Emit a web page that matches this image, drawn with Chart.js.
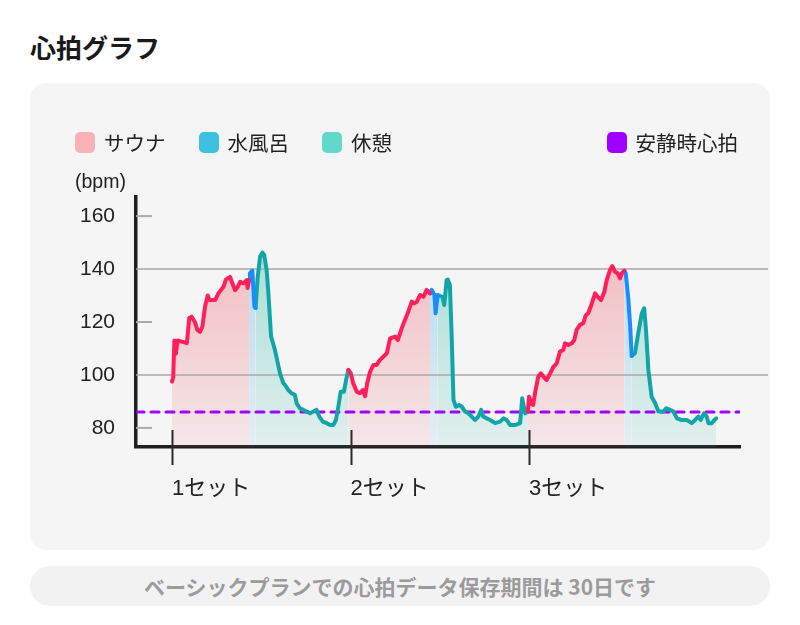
<!DOCTYPE html>
<html lang="ja">
<head>
<meta charset="utf-8">
<script src="https://cdn.jsdelivr.net/npm/chart.js@4.4.1/dist/chart.umd.min.js"></script>
<style>
  body { margin: 0; width: 800px; height: 625px; background: #fff; position: relative; overflow: hidden;
         font-family: 'Noto Sans CJK JP', sans-serif; }
  h1 { position: absolute; left: 30px; top: 28px; margin: 0; font-size: 26px; line-height: 38px; font-weight: 700; color: #1a1a1a; }
  #card { position: absolute; left: 30px; top: 83px; width: 740px; height: 467px; background: #f5f5f5; border-radius: 16px; }
  #card canvas { position: absolute; left: 0; top: 0; }
  .legend { position: absolute; top: 47px; display: flex; gap: 33px; }
  .legend.left { left: 45px; }
  .legend.right { right: 32px; }
  .item { display: flex; align-items: center; gap: 9px; font-size: 20.5px; line-height: 24px; color: #222; }
  .box { width: 20px; height: 21px; border-radius: 5px; }
  #unit { position: absolute; left: 45px; top: 86px; font-family: 'Liberation Sans', sans-serif; font-size: 19.5px; line-height: 24px; color: #222; }
  #note { position: absolute; left: 30px; top: 566px; width: 740px; height: 40px; border-radius: 20px; background: #f2f2f2;
          text-align: center; line-height: 40px; font-size: 21px; font-weight: 700; color: #9b9b9b; }
</style>
</head>
<body>
<h1>心拍グラフ</h1>
<div id="card">
  <canvas id="hr-chart" width="740" height="467"></canvas>
  <div class="legend left" id="legend-left"></div>
  <div class="legend right" id="legend-right"></div>
  <div id="unit">(bpm)</div>
</div>
<div id="note">ベーシックプランでの心拍データ保存期間は 30日です</div>

<script>
// minutes from the start of the first set
var hrTime = [
  0.0, 0.4, 0.8, 1.3, 1.9, 3.3, 5.0, 5.8, 6.6, 7.7, 8.5, 9.4, 10.2, 11.1, 12.0, 12.6, 14.5, 15.6, 17.3, 18.1,
  19.5, 20.1, 21.2, 22.1, 22.9, 24.0, 25.1, 25.4, 25.9,
  26.2, 27.0, 27.7, 28.1,
  28.8, 29.6, 30.4, 31.0, 31.8, 32.4, 33.3, 34.6, 36.3, 37.4, 38.0, 39.1, 40.2, 41.3, 41.9, 43.0, 44.1, 45.3,
  46.4, 47.5, 48.6, 49.5, 50.7, 52.0, 53.1, 54.2, 55.1, 55.9, 56.7, 57.8, 58.5, 59.3,
  60.1, 60.9, 62.1, 63.2, 64.1, 64.9, 65.6, 66.6, 67.7, 68.8, 69.9, 71.0, 72.2, 73.3, 75.0, 75.9, 77.2, 78.3,
  79.4, 80.6, 81.4, 82.3, 83.4, 84.5, 85.6, 86.7,
  87.3, 88.2, 88.6, 89.3,
  90.1, 90.9, 91.5, 92.3, 92.7, 93.4, 94.0, 94.6, 95.4, 96.5, 97.4, 98.5, 99.6, 100.7, 101.8, 103.0, 103.9,
  104.6, 105.8, 106.9, 108.6, 110.3, 111.4, 112.5, 113.6, 115.3, 117.0, 117.7, 118.7, 119.6,
  120.0, 120.7, 121.4, 122.0, 123.1, 124.0, 124.8, 125.9, 127.1, 128.2, 129.3, 130.4, 131.5, 132.1, 133.2,
  134.4, 135.2, 136.0, 137.1, 138.2, 139.1, 139.9, 141.1, 142.2, 143.1, 144.2, 145.3, 146.1, 147.2, 148.0,
  148.9, 149.8, 150.6, 151.2, 152.0,
  152.5, 153.4, 154.0, 154.5,
  155.6, 156.7, 157.9, 158.7, 159.3, 160.1, 161.2, 162.4, 163.5, 165.2, 166.1, 167.4, 168.5, 169.7, 171.3,
  173.0, 174.7, 175.8, 176.9, 177.7, 178.8, 179.7, 180.3, 181.4, 182.2, 182.9
];
var hrBpm = [
  97.5, 99, 113, 108, 113, 112.6, 112, 121.5, 122, 120, 117, 116.3, 118.2, 125.8, 130, 128.3, 128.3, 130.8, 133.3, 136,
  137, 135.2, 132, 133.3, 135.2, 134.6, 135.8, 132.8, 135.8,
  138.4, 139.4, 125.8, 125.3,
  137, 144.6, 146.2, 145.3, 139.6, 130.8, 114.5, 109.4, 100.6, 96.9, 96.2, 94.3, 93.1, 92.5, 89.3, 87.4, 86.8, 86.2,
  85.5, 86.2, 86.8, 84.3, 82.4, 81.8, 81.1, 81.1, 83, 88, 93.7, 93.7, 98.1, 101.9,
  100.6, 96.9, 93.7, 93.1, 94.3, 92, 96.9, 101.3, 103.8, 103.8, 105.7, 106.9, 108.2, 113.8, 114.5, 113.2, 117.6, 120.8,
  123.9, 127.7, 127, 127.7, 130.2, 129.5, 132.1, 130.8,
  132.1, 130.2, 123.3, 130.2,
  129.8, 129.5, 126.4, 135.8, 136, 134, 114.5, 90.6, 88, 88.7, 88, 86.2, 85.5, 84.3, 83, 84.3, 86.8,
  84.3, 83.6, 83, 81.8, 82.4, 83.6, 83, 81.1, 81.1, 81.8, 91.2, 85.5, 86.2,
  91.8, 89.3, 88.7, 93.1, 99.4, 100.6, 99.4, 98.1, 100.6, 103.1, 104.4, 108.8, 109.4, 112, 111.3,
  112, 113.2, 117, 118.9, 119.5, 122.6, 123.3, 127, 130.8, 129.5, 128.3, 131.4, 135.8, 139.6, 141.1,
  139, 138.4, 136.5, 138.4, 139.4,
  138.4, 128.3, 118.2, 107.2,
  108.2, 115.7, 123.3, 125.2, 117, 101.9, 91.8, 89.3, 86.2, 86.2, 87.4, 86.8, 86.2, 83.6, 83,
  83, 81.8, 83, 84.3, 83, 85.5, 84.3, 81.8, 81.8, 82.9, 83.6
];

var setStart = [0, 60, 120];
var coldStart = [26.0, 87.0, 152.3];
var restStart = [28.4, 89.8, 155.0];
var restingBpm = 86;

var setLabels = ['1セット', '2セット', '3セット'];
var bpmTicks = [80, 100, 120, 140, 160];

var legendLabels = ['サウナ', '水風呂', '休憩', '安静時心拍'];
var legendColors = ['#f8b1b4', '#3ec0e1', '#62d8ca', '#a000ff'];

var xMin = -12.1, xMax = 190.9;
var yMin = 72.8, yMax = 167.2;

// legend (first three on the left, resting HR on the right)
legendLabels.forEach(function (label, i) {
  var item = document.createElement('div');
  item.className = 'item';
  item.innerHTML = '<span class="box" style="background:' + legendColors[i] + '"></span><span>' + label + '</span>';
  document.getElementById(i < 3 ? 'legend-left' : 'legend-right').appendChild(item);
});

function phaseOf(t) {
  var s = 0;
  setStart.forEach(function (v, i) { if (t >= v) s = i; });
  if (t < coldStart[s]) return 'sauna';
  if (t < restStart[s]) return 'cold';
  return 'rest';
}
var phases = hrTime.map(phaseOf);

function phaseData(p) {
  return hrTime.map(function (t, i) {
    var keep = phases[i] === p || phases[i + 1] === p;
    return { x: t, y: keep ? hrBpm[i] : null };
  });
}

function fade(rgb, a1, a2) {
  return function (context) {
    var chart = context.chart;
    var area = chart.chartArea;
    if (!area) return 'rgba(' + rgb + ',' + a2 + ')';
    var g = chart.ctx.createLinearGradient(0, area.top, 0, area.bottom);
    g.addColorStop(0, 'rgba(' + rgb + ',' + a1 + ')');
    g.addColorStop(1, 'rgba(' + rgb + ',' + a2 + ')');
    return g;
  };
}

var axisMarks = {
  id: 'axisMarks',
  beforeDatasetsDraw: function (chart) {
    var ctx = chart.ctx, area = chart.chartArea, y = chart.scales.y;
    ctx.save();
    y.ticks.forEach(function (tk, i) {
      var py = y.getPixelForValue(tk.value);
      ctx.beginPath();
      if (i % 2 === 1) {
        ctx.strokeStyle = '#a9a9a9';
        ctx.lineWidth = 1.5;
        ctx.moveTo(area.left, py);
        ctx.lineTo(chart.width - 2, py);
      } else {
        ctx.strokeStyle = '#aaaaaa';
        ctx.lineWidth = 2;
        ctx.moveTo(area.left, py);
        ctx.lineTo(area.left + 16, py);
      }
      ctx.stroke();
    });
    ctx.restore();
  },
  afterDatasetsDraw: function (chart) {
    var ctx = chart.ctx, area = chart.chartArea, x = chart.scales.x;
    ctx.save();
    ctx.strokeStyle = '#2a2a2a';
    ctx.lineWidth = 2;
    x.ticks.forEach(function (tk) {
      var px = Math.round(x.getPixelForValue(tk.value)) + 0.5;
      ctx.beginPath();
      ctx.moveTo(px, area.bottom - 17);
      ctx.lineTo(px, area.bottom + 18);
      ctx.stroke();
    });
    ctx.restore();
  }
};

var tickFont = { family: "'Liberation Sans', 'Noto Sans CJK JP', sans-serif", size: 21 };
var labelFont = { family: "'Liberation Sans', 'Noto Sans CJK JP', sans-serif", size: 22 };

var hrChart = new Chart(document.getElementById('hr-chart'), {
  type: 'line',
  data: {
    datasets: [
      {
        label: 'サウナ',
        data: phaseData('sauna'),
        borderColor: '#ff1f5b',
        backgroundColor: fade('240,110,120', 0.5, 0.1),
        fill: 'start',
        order: 0
      },
      {
        label: '水風呂',
        data: phaseData('cold'),
        borderColor: '#1a8cff',
        backgroundColor: fade('90,180,230', 0.5, 0.1),
        fill: 'start',
        order: 0
      },
      {
        label: '休憩',
        data: phaseData('rest'),
        borderColor: '#12a5a8',
        backgroundColor: fade('60,190,175', 0.5, 0.1),
        fill: 'start',
        order: 0
      },
      {
        label: '安静時心拍',
        data: [{ x: xMin, y: restingBpm }, { x: xMax, y: restingBpm }],
        borderColor: '#a000ff',
        borderWidth: 3,
        borderDash: [8, 7],
        fill: false,
        order: 1
      }
    ]
  },
  options: {
    responsive: false,
    animation: false,
    events: [],
    spanGaps: false,
    elements: {
      point: { radius: 0 },
      line: { borderWidth: 4, tension: 0, borderJoinStyle: 'round', borderCapStyle: 'round' }
    },
    layout: { padding: { top: 114, right: 30, left: 0, bottom: 0 } },
    plugins: {
      legend: { display: false },
      tooltip: { enabled: false },
      filler: { drawTime: 'beforeDatasetsDraw' }
    },
    scales: {
      x: {
        type: 'linear',
        min: xMin,
        max: xMax,
        afterBuildTicks: function (s) { s.ticks = setStart.map(function (v) { return { value: v }; }); },
        afterFit: function (s) { s.height = 103; },
        grid: { display: false, drawTicks: false },
        border: { display: true, color: '#1e1e1e', width: 3.5 },
        ticks: {
          align: 'start',
          padding: 29,
          color: '#222',
          font: labelFont,
          callback: function (v, i) { return setLabels[i]; }
        }
      },
      y: {
        min: yMin,
        max: yMax,
        afterBuildTicks: function (s) { s.ticks = bpmTicks.map(function (v) { return { value: v }; }); },
        afterFit: function (s) { s.width = 106; },
        grid: { display: false, drawTicks: false },
        border: { display: true, color: '#1e1e1e', width: 3.5 },
        ticks: { padding: 21, color: '#222', font: tickFont }
      }
    }
  },
  plugins: [axisMarks]
});
</script>
</body>
</html>
